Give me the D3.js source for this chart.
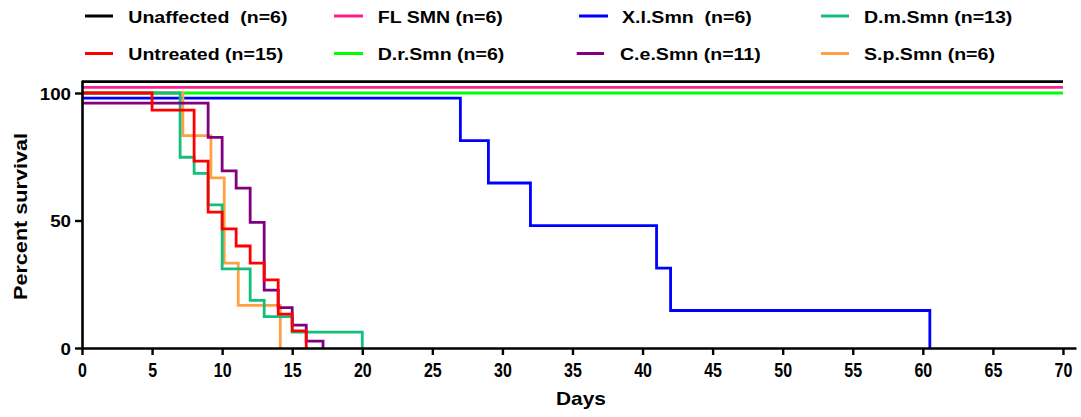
<!DOCTYPE html>
<html>
<head>
<meta charset="utf-8">
<script src="https://cdn.jsdelivr.net/npm/d3@7"></script>
<style>
  html, body { margin: 0; padding: 0; background: #fff; }
  svg text { font-family: "Liberation Sans", Arial, sans-serif; font-weight: bold; fill: #000; white-space: pre; }
</style>
</head>
<body>
<svg id="chart" width="1081" height="417"></svg>
<script>
// ---- data ----
const seriesNames = ["Unaffected  (n=6)", "FL SMN (n=6)", "X.l.Smn  (n=6)", "D.m.Smn (n=13)",
                     "Untreated (n=15)", "D.r.Smn (n=6)", "C.e.Smn (n=11)", "S.p.Smn (n=6)"];
const seriesColors = ["#000000", "#ff1f8f", "#0000ff", "#14bf7c",
                      "#ff0000", "#00ff00", "#800080", "#ffa044"];

const unaffectedDays = [0, 70];
const unaffectedSurv = [104.5, 104.5];
const flSmnDays = [0, 70];
const flSmnSurv = [102.2, 102.2];
const drSmnDays = [0, 70];
const drSmnSurv = [100, 100];
const xlSmnDays = [0, 27, 29, 32, 41, 42, 60.5];
const xlSmnSurv = [98, 81.3, 64.7, 48, 31.3, 14.7, 0];
const dmSmnDays = [0, 7, 8, 9, 10, 12, 13, 15, 20];
const dmSmnSurv = [100, 74.8, 68.5, 56.1, 31.0, 18.7, 12.3, 6.2, 0];
const untreatedDays = [0, 5, 8, 9, 10, 11, 12, 13, 14, 15, 16];
const untreatedSurv = [100, 93.3, 73.3, 53.3, 46.7, 40, 33.3, 26.7, 13.3, 6.7, 0];
const ceSmnDays = [0, 9, 10, 11, 12, 13, 14, 15, 16, 17.2];
const ceSmnSurv = [96, 82.6, 69.5, 62.7, 49.3, 22.7, 15.8, 9.0, 2.7, 0];
const spSmnDays = [0, 7.2, 9.2, 10.15, 11.15, 14.15];
const spSmnSurv = [100, 83.3, 66.7, 33.3, 16.7, 0];

const xTicks = [0, 5, 10, 15, 20, 25, 30, 35, 40, 45, 50, 55, 60, 65, 70];
const yTicks = [0, 50, 100];
const xTitle = "Days";
const yTitle = "Percent survival";

// ---- layout ----
const svg = d3.select("#chart");
const x = d3.scaleLinear().domain([0, 70.93]).range([82, 1076]);
const y = d3.scaleLinear().domain([0, 105]).range([348, 80.25]);

const toPts = (d, s) => d.map((v, i) => [v, s[i]]);
// drawing order (bottom -> top) with series index
const drawOrder = [
  [unaffectedDays, unaffectedSurv, 0],
  [flSmnDays, flSmnSurv, 1],
  [drSmnDays, drSmnSurv, 5],
  [xlSmnDays, xlSmnSurv, 2],
  [spSmnDays, spSmnSurv, 7],
  [dmSmnDays, dmSmnSurv, 3],
  [ceSmnDays, ceSmnSurv, 6],
  [untreatedDays, untreatedSurv, 4]
];

const line = d3.line().x(d => x(d[0])).y(d => y(d[1])).curve(d3.curveStepAfter);

const plot = svg.append("g");
drawOrder.forEach(([d, s, idx]) => {
  plot.append("path")
    .attr("d", line(toPts(d, s)))
    .attr("fill", "none")
    .attr("stroke", seriesColors[idx])
    .attr("stroke-width", 2.8)
    .attr("stroke-linejoin", "miter")
    .attr("stroke-linecap", "butt");
});

// axes
const xAxis = d3.axisBottom(x).tickValues(xTicks).tickSize(7).tickSizeOuter(0).tickFormat(d3.format("d"));
const gx = svg.append("g").attr("transform", `translate(0,${y(0)})`).call(xAxis);
gx.select(".domain").attr("stroke", "#000").attr("stroke-width", 2.6);
gx.selectAll(".tick line").attr("stroke", "#000").attr("stroke-width", 2.4);
gx.selectAll(".tick text")
  .attr("y", 29).attr("dy", 0)
  .attr("font-size", 19.5)
  .attr("transform", "scale(0.82,1)")
  .attr("x", function() { return 0; });
gx.selectAll(".tick").each(function(d) {
  const t = d3.select(this);
  t.select("text").attr("transform", "scale(0.82,1)");
});

const yAxis = d3.axisLeft(y).tickValues(yTicks).tickSize(7).tickSizeOuter(0).tickFormat(d3.format("d"));
const gy = svg.append("g").attr("transform", `translate(${x(0)},0)`).call(yAxis);
gy.select(".domain").attr("stroke", "#000").attr("stroke-width", 2.6);
gy.selectAll(".tick line").attr("stroke", "#000").attr("stroke-width", 2.4);
gy.selectAll(".tick text")
  .attr("x", 0).attr("dy", 0).attr("y", 6)
  .attr("font-size", 16.3)
  .attr("text-anchor", "end")
  .attr("transform", "translate(-11,0) scale(1.15,1)");

svg.selectAll(".tick text").attr("fill", "#000").style("font-family", "'Liberation Sans', Arial, sans-serif").style("font-weight", "bold");

// axis titles
svg.append("text")
  .attr("x", 581).attr("y", 405)
  .attr("text-anchor", "middle")
  .attr("font-size", 19)
  .attr("textLength", 50).attr("lengthAdjust", "spacingAndGlyphs")
  .text(xTitle);
svg.append("text")
  .attr("transform", "translate(27,216.5) rotate(-90)")
  .attr("text-anchor", "middle")
  .attr("font-size", 18)
  .attr("textLength", 167).attr("lengthAdjust", "spacingAndGlyphs")
  .text(yTitle);

// legend
const legCols = [[85, 113, 128.3], [334, 363, 377.7], [579, 608, 622], [821, 849, 864]];
const legColsRow2 = [[85, 113, 128.3], [334, 363, 377.7], [576.7, 604, 620], [821, 849, 864]];
const legRows = [[16, 22.5], [53.5, 60]];
seriesNames.forEach((name, i) => {
  const r = Math.floor(i / 4), c = i % 4;
  const col = r === 0 ? legCols[c] : legColsRow2[c];
  const g = svg.append("g");
  g.append("line")
    .attr("x1", col[0]).attr("x2", col[1])
    .attr("y1", legRows[r][0]).attr("y2", legRows[r][0])
    .attr("stroke", seriesColors[i]).attr("stroke-width", 3);
  g.append("text")
    .attr("transform", `translate(${col[2]},${legRows[r][1]}) scale(1.2,1)`)
    .attr("font-size", 16.3)
    .text(name);
});
</script>
</body>
</html>
